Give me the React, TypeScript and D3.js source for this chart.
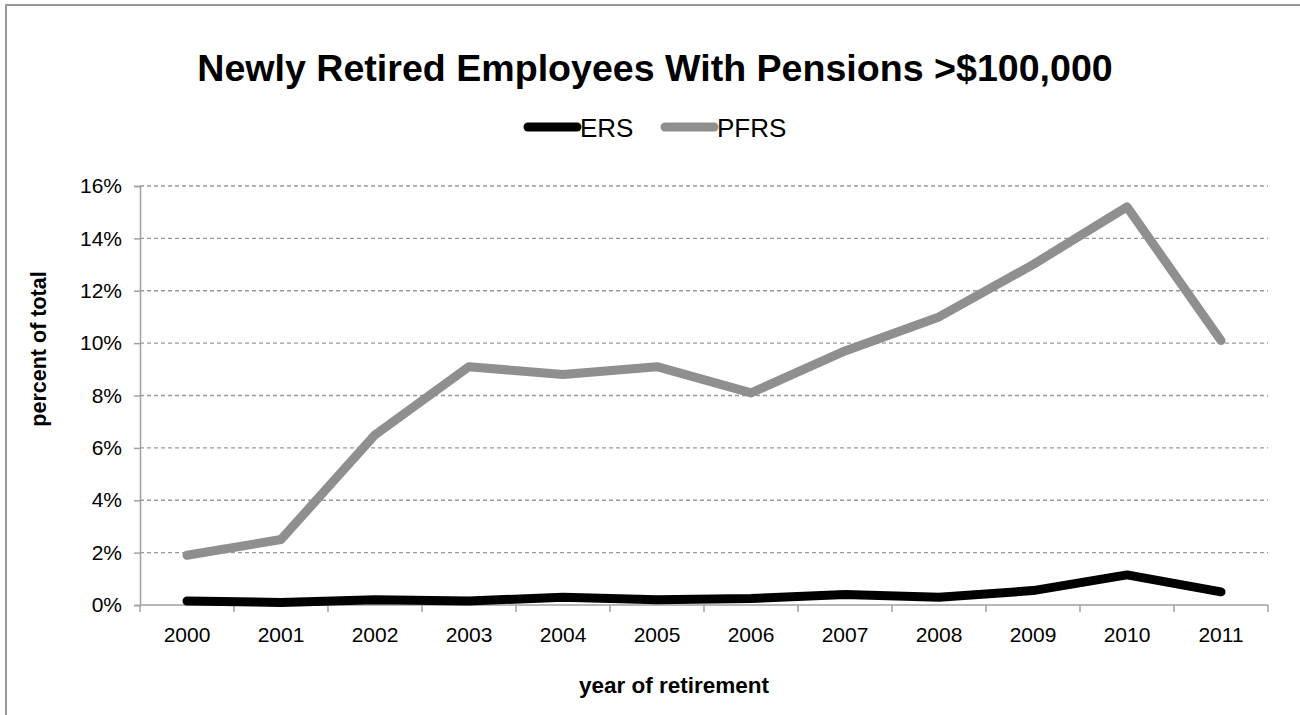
import React, { useEffect, useRef } from "react";
import * as d3 from "d3";

// chart data
const years = ["2000", "2001", "2002", "2003", "2004", "2005", "2006", "2007", "2008", "2009", "2010", "2011"];
const ersValues = [0.15, 0.1, 0.2, 0.15, 0.3, 0.2, 0.25, 0.4, 0.3, 0.55, 1.15, 0.5];
const pfrsValues = [1.9, 2.5, 6.5, 9.1, 8.8, 9.1, 8.1, 9.7, 11.0, 13.0, 15.2, 10.1];
const yTicks = [0, 2, 4, 6, 8, 10, 12, 14, 16];

const seriesList = [
  { name: "ERS", values: ersValues, color: "#000000" },
  { name: "PFRS", values: pfrsValues, color: "#8f8f8f" }
];

export default function App() {
  const ref = useRef<SVGSVGElement | null>(null);

  useEffect(() => {
    const el = ref.current;
    if (!el) return;
    const svg = d3.select(el);
    svg.selectAll("*").remove();

    const W = 1300, H = 715;
    const margin = { top: 186, right: 32, bottom: 110, left: 140 };
    const width = W - margin.left - margin.right,
      height = H - margin.top - margin.bottom;
    const font = "'Liberation Sans', Arial, sans-serif";

    svg.append("rect").attr("width", W).attr("height", H).attr("fill", "#fff");

    // outer frame
    svg
      .append("path")
      .attr("d", "M6,716 L6,5 L1302,5")
      .attr("fill", "none")
      .attr("stroke", "#999")
      .attr("stroke-width", 2);

    svg
      .append("text")
      .attr("x", 655)
      .attr("y", 81)
      .attr("text-anchor", "middle")
      .attr("font-family", font)
      .attr("font-weight", "bold")
      .attr("font-size", 37.6)
      .text("Newly Retired Employees With Pensions >$100,000");

    const x = d3.scaleBand().domain(years).range([0, width]);
    const y = d3.scaleLinear().domain([0, 16]).range([height, 0]);

    const g = svg.append("g").attr("transform", `translate(${margin.left},${margin.top})`);

    // gridlines
    g.selectAll(".grid")
      .data(yTicks.filter(t => t > 0))
      .enter()
      .append("line")
      .attr("x1", 0)
      .attr("x2", width)
      .attr("y1", d => y(d))
      .attr("y2", d => y(d))
      .attr("stroke", "#999")
      .attr("stroke-width", 1.3)
      .attr("stroke-dasharray", "4,3");

    // y axis
    const yAxis = g
      .append("g")
      .call(
        d3
          .axisLeft(y)
          .tickValues(yTicks)
          .tickSize(6)
          .tickPadding(12)
          .tickFormat(d => d + "%")
      );
    yAxis.select(".domain").attr("stroke", "#a0a0a0").attr("stroke-width", 1.5);
    yAxis.selectAll(".tick line").attr("stroke", "#a0a0a0").attr("stroke-width", 1.5);
    yAxis
      .selectAll(".tick text")
      .attr("font-family", font)
      .attr("font-size", 21)
      .attr("fill", "#000");

    // x axis with ticks at band edges
    const xAxis = g.append("g").attr("transform", `translate(0,${height})`);
    xAxis
      .append("line")
      .attr("x1", 0)
      .attr("x2", width)
      .attr("stroke", "#a0a0a0")
      .attr("stroke-width", 1.5);
    const edges = years.map(d => x(d) as number).concat([width]);
    xAxis
      .selectAll(".edge")
      .data(edges)
      .enter()
      .append("line")
      .attr("x1", d => d)
      .attr("x2", d => d)
      .attr("y1", 0)
      .attr("y2", 7)
      .attr("stroke", "#a0a0a0")
      .attr("stroke-width", 1.5);
    xAxis
      .selectAll(".lab")
      .data(years)
      .enter()
      .append("text")
      .attr("x", d => (x(d) as number) + x.bandwidth() / 2)
      .attr("y", 37)
      .attr("text-anchor", "middle")
      .attr("font-family", font)
      .attr("font-size", 21)
      .text(d => d);

    // axis titles
    svg
      .append("text")
      .attr("transform", `translate(46,349) rotate(-90)`)
      .attr("text-anchor", "middle")
      .attr("font-family", font)
      .attr("font-weight", "bold")
      .attr("font-size", 21.5)
      .text("percent of total");

    svg
      .append("text")
      .attr("x", 674)
      .attr("y", 693)
      .attr("text-anchor", "middle")
      .attr("font-family", font)
      .attr("font-weight", "bold")
      .attr("font-size", 22.5)
      .text("year of retirement");

    // lines
    const line = d3
      .line<number>()
      .x((d, i) => (x(years[i]) as number) + x.bandwidth() / 2)
      .y(d => y(d));

    seriesList.forEach(s => {
      g.append("path")
        .datum(s.values)
        .attr("fill", "none")
        .attr("stroke", s.color)
        .attr("stroke-width", 9)
        .attr("stroke-linecap", "round")
        .attr("stroke-linejoin", "round")
        .attr("d", line);
    });

    // legend
    const legendItems = [
      { s: seriesList[0], x: 523 },
      { s: seriesList[1], x: 660 }
    ];
    legendItems.forEach(({ s, x: lx }) => {
      svg
        .append("line")
        .attr("x1", lx + 5)
        .attr("x2", lx + 54)
        .attr("y1", 127)
        .attr("y2", 127)
        .attr("stroke", s.color)
        .attr("stroke-width", 9)
        .attr("stroke-linecap", "round");
      svg
        .append("text")
        .attr("x", lx + 57)
        .attr("y", 137)
        .attr("font-family", font)
        .attr("font-size", 26)
        .text(s.name);
    });

    return () => {
      svg.selectAll("*").remove();
    };
  }, []);

  return (
    <svg
      ref={ref}
      width={1300}
      height={715}
      style={{ position: "absolute", left: 0, top: 0, display: "block" }}
    />
  );
}
